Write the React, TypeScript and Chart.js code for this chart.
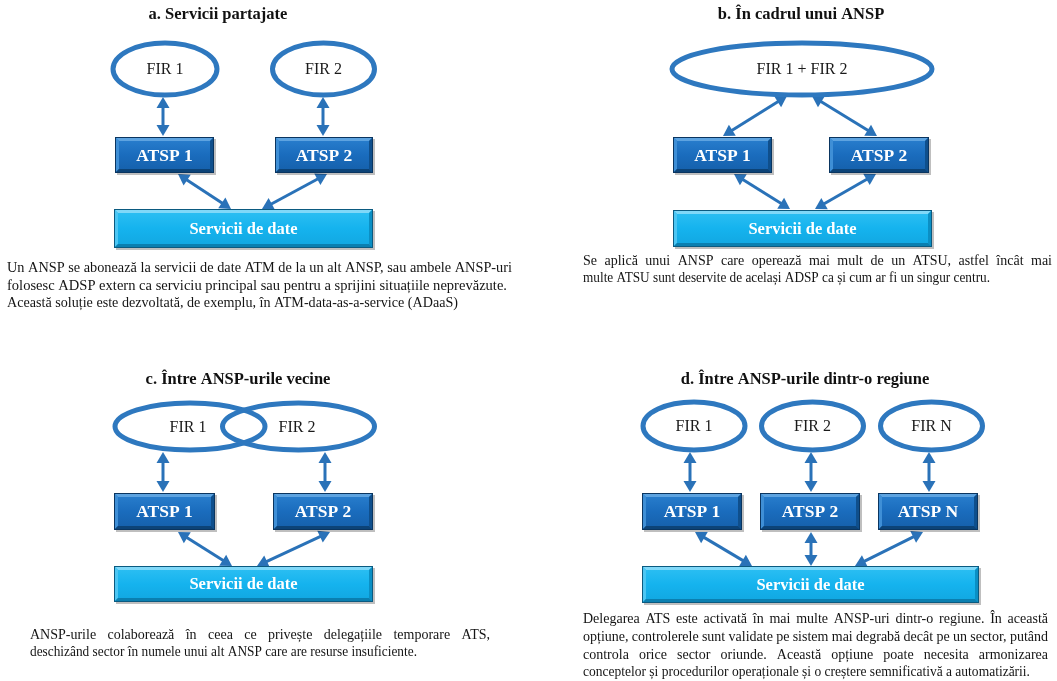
import React, { useEffect, useRef } from "react";
import { Chart, registerables } from "chart.js";

Chart.register(...registerables);

// ---- Diagram data (diagram units: x 0..1057, y 0..681, top-down) ----
const titleLabels = [
  "a. Servicii partajate",
  "b. În cadrul unui ANSP",
  "c. Între ANSP-urile vecine",
  "d. Între ANSP-urile dintr-o regiune",
];
const titleX = [218, 801, 238, 805];
const titleY = [15, 15, 380, 380];

// FIR ellipses
const firLabels = ["FIR 1", "FIR 2", "FIR 1 + FIR 2", "FIR 1", "FIR 2", "FIR 1", "FIR 2", "FIR N"];
const firCx = [165, 323.5, 802, 190, 298.5, 694, 812.5, 931.5];
const firCy = [69, 69, 69, 426.5, 426.5, 426, 426, 426];
const firRx = [52, 51, 130, 75, 76, 51, 51, 51];
const firRy = [26, 26, 26, 23.5, 23.5, 24, 24, 24];
const firLabelX = [165, 323.5, 802, 188, 297, 694, 812.5, 931.5];

// ATSP boxes [x0, y0, x1, y1]
const atspLabels = ["ATSP 1", "ATSP 2", "ATSP 1", "ATSP 2", "ATSP 1", "ATSP 2", "ATSP 1", "ATSP 2", "ATSP N"];
const atspBoxes: number[][] = [
  [115, 137, 214, 173], [275, 137, 373, 173],
  [673, 137, 772, 173], [829, 137, 929, 173],
  [114, 493, 215, 530], [273, 493, 373, 530],
  [642, 493, 742, 530], [760, 493, 860, 530], [878, 493, 978, 530],
];

// Data-service boxes
const serviceLabel = "Servicii de date";
const serviceBoxes: number[][] = [
  [114, 209, 373, 248],
  [673, 210, 932, 247],
  [114, 566, 373, 602],
  [642, 566, 979, 603],
];

// Double-headed arrows [x0, y0, x1, y1]
const arrows: number[][] = [
  [163, 97, 163, 136], [323, 97, 323, 136], [178, 174, 231, 209], [327, 174, 262, 209],
  [787, 96, 723, 136], [812, 96, 877, 136], [734, 174, 790, 209], [876, 174, 815, 209],
  [163, 452, 163, 492], [325, 452, 325, 492], [178, 532, 232, 566], [330, 532, 257, 566],
  [690, 452, 690, 492], [811, 452, 811, 492], [929, 452, 929, 492],
  [695, 532, 752, 566], [811, 532, 811, 566], [923, 532, 855, 566],
];

// Paragraph lines
const paraLines = [
  "Un ANSP se abonează la servicii de date ATM de la un alt ANSP, sau ambele ANSP-uri",
  "folosesc ADSP extern ca serviciu principal sau pentru a sprijini situațiile neprevăzute.",
  "Această soluție este dezvoltată, de exemplu, în ATM-data-as-a-service (ADaaS)",
  "Se aplică unui ANSP care operează mai mult de un ATSU, astfel încât mai",
  "multe ATSU sunt deservite de același ADSP ca și cum ar fi un singur centru.",
  "ANSP-urile colaborează în ceea ce privește delegațiile temporare ATS,",
  "deschizând sector în numele unui alt ANSP care are resurse insuficiente.",
  "Delegarea ATS este activată în mai multe ANSP-uri dintr-o regiune. În această",
  "opțiune, controlerele sunt validate pe sistem mai degrabă decât pe un sector, putând",
  "controla orice sector oriunde. Această opțiune poate necesita armonizarea",
  "conceptelor și procedurilor operaționale și o creștere semnificativă a automatizării.",
];
const paraX0 = [7, 7, 7, 583, 583, 30, 30, 583, 583, 583, 583];
const paraX1 = [512, 507, 458, 1052, 990, 490, 417, 1048, 1048, 1048, 1030];
const paraY = [268, 286, 303, 261, 278, 635, 652, 619, 637, 655, 672];
const paraJustify = [false, false, false, true, false, true, false, true, true, true, false];

const SERIF = "'Liberation Serif', 'DejaVu Serif', serif";
const ARROW = "#2a72b8";
const RING = "#2e78bf";

function bevelBox(
  ctx: CanvasRenderingContext2D,
  x0: number, y0: number, x1: number, y1: number,
  c: { top: string; mid: string; bot: string; lt: string; tp: string; rt: string; bt: string; line: string }
) {
  const b = 4;
  ctx.save();
  ctx.fillStyle = "rgba(0,0,0,0.25)";
  ctx.fillRect(x0 + 2, y0 + 2, x1 - x0, y1 - y0);
  const g = ctx.createLinearGradient(0, y0, 0, y1);
  g.addColorStop(0, c.top);
  g.addColorStop(0.5, c.mid);
  g.addColorStop(1, c.bot);
  ctx.fillStyle = g;
  ctx.fillRect(x0, y0, x1 - x0, y1 - y0);
  const poly = (pts: number[][], col: string) => {
    ctx.beginPath();
    ctx.moveTo(pts[0][0], pts[0][1]);
    for (let i = 1; i < pts.length; i++) ctx.lineTo(pts[i][0], pts[i][1]);
    ctx.closePath();
    ctx.fillStyle = col;
    ctx.fill();
  };
  poly([[x0, y0], [x1, y0], [x1 - b, y0 + b], [x0 + b, y0 + b]], c.tp);
  poly([[x0, y0], [x0 + b, y0 + b], [x0 + b, y1 - b], [x0, y1]], c.lt);
  poly([[x1, y0], [x1, y1], [x1 - b, y1 - b], [x1 - b, y0 + b]], c.rt);
  poly([[x0, y1], [x0 + b, y1 - b], [x1 - b, y1 - b], [x1, y1]], c.bt);
  ctx.strokeStyle = c.line;
  ctx.lineWidth = 1;
  ctx.strokeRect(x0 + 0.5, y0 + 0.5, x1 - x0 - 1, y1 - y0 - 1);
  ctx.restore();
}

function arrowHead(ctx: CanvasRenderingContext2D, tx: number, ty: number, ang: number) {
  const len = 11, half = 6.5;
  ctx.beginPath();
  ctx.moveTo(tx, ty);
  ctx.lineTo(tx - len * Math.cos(ang) + half * Math.sin(ang), ty - len * Math.sin(ang) - half * Math.cos(ang));
  ctx.lineTo(tx - len * Math.cos(ang) - half * Math.sin(ang), ty - len * Math.sin(ang) + half * Math.cos(ang));
  ctx.closePath();
  ctx.fill();
}

const diagramPlugin = {
  id: "diagram",
  afterDatasetsDraw(chart: any) {
    const ctx: CanvasRenderingContext2D = chart.ctx;
    const sx = chart.scales.x;
    const sy = chart.scales.y;
    const X = (v: number) => sx.getPixelForValue(v);
    const Y = (v: number) => sy.getPixelForValue(v);
    const W = (v: number) => Math.abs(sx.getPixelForValue(v) - sx.getPixelForValue(0));
    const H = (v: number) => Math.abs(sy.getPixelForValue(v) - sy.getPixelForValue(0));

    ctx.save();
    // titles
    ctx.fillStyle = "#111";
    ctx.font = `bold 16.5px ${SERIF}`;
    ctx.textAlign = "center";
    ctx.textBaseline = "middle";
    titleLabels.forEach((t, i) => ctx.fillText(t, X(titleX[i]), Y(titleY[i])));

    // arrows
    ctx.strokeStyle = ARROW;
    ctx.fillStyle = ARROW;
    ctx.lineWidth = 3;
    arrows.forEach(([a, b, c, d]) => {
      const x0 = X(a), y0 = Y(b), x1 = X(c), y1 = Y(d);
      const ang = Math.atan2(y1 - y0, x1 - x0);
      const ins = 8;
      ctx.beginPath();
      ctx.moveTo(x0 + ins * Math.cos(ang), y0 + ins * Math.sin(ang));
      ctx.lineTo(x1 - ins * Math.cos(ang), y1 - ins * Math.sin(ang));
      ctx.stroke();
      arrowHead(ctx, x1, y1, ang);
      arrowHead(ctx, x0, y0, ang + Math.PI);
    });

    // ellipses
    ctx.strokeStyle = RING;
    ctx.lineWidth = 5;
    firLabels.forEach((_, i) => {
      ctx.beginPath();
      ctx.ellipse(X(firCx[i]), Y(firCy[i]), W(firRx[i]), H(firRy[i]), 0, 0, Math.PI * 2);
      ctx.stroke();
    });
    ctx.fillStyle = "#1a1a1a";
    ctx.font = `16px ${SERIF}`;
    firLabels.forEach((t, i) => ctx.fillText(t, X(firLabelX[i]), Y(firCy[i]) + 1));

    // ATSP boxes
    const dark = { top: "#2a80cf", mid: "#1a6cbd", bot: "#155fa9", lt: "#3f8fd6", tp: "#5da3e0", rt: "#0f4f8c", bt: "#0c4377", line: "#0a3560" };
    atspBoxes.forEach(([a, b, c, d], i) => {
      bevelBox(ctx, X(a), Y(b), X(c), Y(d), dark);
      ctx.fillStyle = "#ffffff";
      ctx.font = `bold 17.5px ${SERIF}`;
      ctx.fillText(atspLabels[i], (X(a) + X(c)) / 2, (Y(b) + Y(d)) / 2 + 1);
    });
    // service boxes
    const light = { top: "#2fc0f3", mid: "#15b3ee", bot: "#11a6e0", lt: "#4cc6f3", tp: "#80d8f8", rt: "#0b8fc4", bt: "#0a7fb0", line: "#0b5a80" };
    serviceBoxes.forEach(([a, b, c, d]) => {
      bevelBox(ctx, X(a), Y(b), X(c), Y(d), light);
      ctx.fillStyle = "#ffffff";
      ctx.font = `bold 16.5px ${SERIF}`;
      ctx.fillText(serviceLabel, (X(a) + X(c)) / 2, (Y(b) + Y(d)) / 2 + 1);
    });

    // paragraphs
    ctx.fillStyle = "#141414";
    ctx.font = `14px ${SERIF}`;
    ctx.textAlign = "left";
    paraLines.forEach((line, i) => {
      const x0 = X(paraX0[i]), x1 = X(paraX1[i]), y = Y(paraY[i]);
      const target = x1 - x0;
      const natural = ctx.measureText(line).width;
      if (paraJustify[i]) {
        const words = line.split(" ");
        const ww = words.map((w) => ctx.measureText(w).width);
        const sum = ww.reduce((s, v) => s + v, 0);
        const gap = (target - sum) / (words.length - 1);
        if (gap < 2) {
          ctx.save();
          ctx.translate(x0, y);
          ctx.scale(target / natural, 1);
          ctx.fillText(line, 0, 0);
          ctx.restore();
          return;
        }
        let cx = x0;
        words.forEach((w, k) => {
          ctx.fillText(w, cx, y);
          cx += ww[k] + gap;
        });
      } else {
        const s = target / natural;
        ctx.save();
        ctx.translate(x0, y);
        ctx.scale(s, 1);
        ctx.fillText(line, 0, 0);
        ctx.restore();
      }
    });
    ctx.restore();
  },
};

export default function App() {
  const ref = useRef<HTMLCanvasElement | null>(null);
  useEffect(() => {
    if (!ref.current) return;
    const chart = new Chart(ref.current, {
      type: "scatter",
      data: { datasets: [{ data: [], pointRadius: 0 }] },
      options: {
        animation: false,
        responsive: false,
        maintainAspectRatio: false,
        layout: { padding: 0 },
        plugins: { legend: { display: false }, tooltip: { enabled: false } },
        scales: {
          x: { type: "linear", min: 0, max: 1057, display: false },
          y: { type: "linear", min: 0, max: 681, reverse: true, display: false },
        },
      },
      plugins: [diagramPlugin],
    } as any);
    return () => chart.destroy();
  }, []);
  return (
    <div style={{ position: "fixed", left: 0, top: 0, width: 1057, height: 681, background: "#fff" }}>
      <canvas ref={ref} width={1057} height={681} style={{ width: 1057, height: 681, display: "block" }} />
    </div>
  );
}
